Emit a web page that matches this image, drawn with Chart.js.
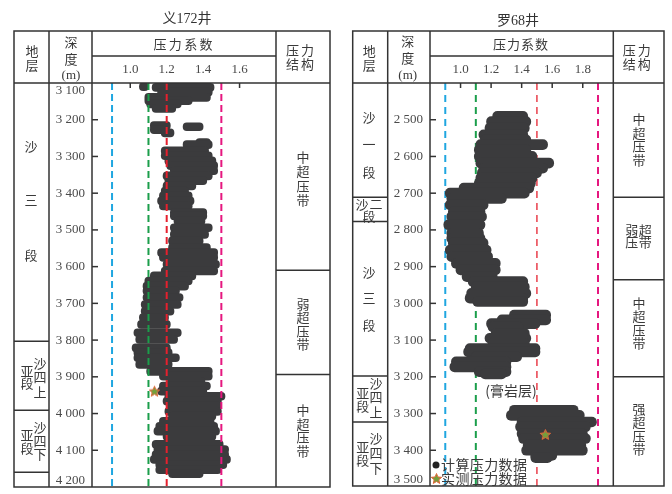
<!DOCTYPE html>
<html>
<head>
<meta charset="utf-8">
<script src="https://cdn.jsdelivr.net/npm/chart.js@4.4.0/dist/chart.umd.min.js"></script>
<style>
  html, body { margin: 0; padding: 0; background: #fff; }
  #wrap { position: relative; width: 672px; height: 494px; }
  canvas { position: absolute; top: 0; }
  #yi { left: 0; }
  #luo { left: 336px; }
</style>
</head>
<body>
<div id="wrap">
  <canvas id="yi" width="336" height="494"></canvas>
  <canvas id="luo" width="336" height="494"></canvas>
</div>
<script>
// 义172井: computed pressure coefficient, one row per depth (low .. high)
var yiDepth = [3103, 3110, 3112, 3125, 3139, 3148, 3157, 3169,
  3216, 3219, 3227, 3236, 3262, 3268, 3285, 3298, 3312, 3325, 3339, 3353, 3366, 3380, 3394,
  3407, 3421, 3435, 3453, 3462, 3476, 3494, 3512, 3530, 3548, 3562, 3575, 3594, 3612,
  3625, 3639, 3653, 3666, 3684, 3703, 3721, 3739, 3757, 3780, 3798, 3821, 3834, 3848, 3866,
  3885, 3898, 3912, 3925, 3939, 3953, 3966, 3980, 3994, 4007, 4021, 4035, 4048, 4062,
  4084, 4098, 4112, 4125, 4139, 4153, 4164];
var yiLow = [1.17, 1.05, 1.12, 1.15, 1.08, 1.08, 1.09, 1.12,
  1.11, 1.29, 1.11, 1.17, 1.36, 1.29, 1.17, 1.17, 1.19, 1.20, 1.22, 1.18, 1.19, 1.18, 1.17,
  1.16, 1.15, 1.16, 1.22, 1.22, 1.24, 1.22, 1.22, 1.21, 1.21, 1.15, 1.16, 1.18, 1.17,
  1.11, 1.08, 1.07, 1.07, 1.07, 1.06, 1.06, 1.05, 1.04, 1.02, 1.03, 1.01, 1.02, 1.02, 1.03,
  1.09, 1.16, 1.20, 1.16, 1.15, 1.19, 1.18, 1.20, 1.19, 1.21, 1.16, 1.14, 1.13, 1.18,
  1.12, 1.13, 1.12, 1.11, 1.14, 1.14, 1.21];
var yiHigh = [1.44, 1.10, 1.46, 1.45, 1.44, 1.34, 1.28, 1.25,
  1.22, 1.40, 1.20, 1.24, 1.44, 1.45, 1.43, 1.45, 1.47, 1.48, 1.48, 1.45, 1.42, 1.36, 1.32,
  1.34, 1.35, 1.34, 1.42, 1.42, 1.41, 1.45, 1.43, 1.40, 1.44, 1.48, 1.48, 1.49, 1.48,
  1.36, 1.34, 1.32, 1.27, 1.29, 1.28, 1.24, 1.21, 1.22, 1.28, 1.26, 1.22, 1.23, 1.27, 1.23,
  1.45, 1.45, 1.41, 1.44, 1.42, 1.52, 1.50, 1.50, 1.50, 1.47, 1.46, 1.48, 1.49, 1.47,
  1.51, 1.54, 1.54, 1.55, 1.53, 1.50, 1.40];
var yiMeasured = [{ x: 1.133, y: 3939 }];
var yiGuides = [0.9, 1.1, 1.2, 1.5];
var yiXTicks = [1.0, 1.2, 1.4, 1.6];
var yiXLabels = ["1.0", "1.2", "1.4", "1.6"];
var yiYTicks = [3100, 3200, 3300, 3400, 3500, 3600, 3700, 3800, 3900, 4000, 4100, 4200];
var yiYLabels = ["3 100", "3 200", "3 300", "3 400", "3 500", "3 600", "3 700", "3 800", "3 900", "4 000", "4 100", "4 200"];
var yiStratBounds = [3803, 3991, 4160];
var yiZoneBounds = [3610, 3894];

// 罗68井
var luoDepth = [2491, 2505, 2523, 2541, 2555, 2568, 2582, 2600, 2618, 2632, 2645, 2659, 2673, 2686,
  2700, 2714, 2732, 2750, 2764, 2786, 2809, 2823, 2836, 2855, 2873, 2891, 2909, 2927,
  2941, 2955, 2973, 2986, 2995, 3032, 3045, 3055, 3064, 3082, 3095, 3109, 3123, 3132, 3145,
  3159, 3173, 3186, 3192, 3291, 3305, 3323, 3336, 3355, 3368, 3386, 3400, 3414, 3420];
var luoLow = [1.21, 1.17, 1.16, 1.12, 1.13, 1.10, 1.09, 1.09, 1.10, 1.12, 1.11, 1.10, 1.09, 0.99,
  0.90, 0.91, 0.90, 0.92, 0.91, 0.89, 0.91, 0.91, 0.92, 0.90, 0.91, 0.94, 0.97, 1.01,
  1.05, 1.07, 1.04, 1.03, 1.08, 1.32, 1.24, 1.17, 1.18, 1.20, 1.16, 1.18, 1.03, 1.02, 1.07,
  0.94, 0.93, 1.09, 1.13, 1.32, 1.30, 1.37, 1.36, 1.37, 1.38, 1.41, 1.40, 1.46, 1.46];
var luoHigh = [1.44, 1.46, 1.45, 1.44, 1.46, 1.57, 1.46, 1.50, 1.61, 1.57, 1.53, 1.50, 1.49, 1.48,
  1.45, 1.30, 1.18, 1.16, 1.17, 1.16, 1.15, 1.16, 1.18, 1.20, 1.21, 1.26, 1.26, 1.24,
  1.44, 1.45, 1.46, 1.44, 1.44, 1.59, 1.59, 1.52, 1.41, 1.45, 1.46, 1.45, 1.52, 1.52, 1.40,
  1.33, 1.33, 1.33, 1.30, 1.77, 1.81, 1.89, 1.85, 1.83, 1.85, 1.82, 1.83, 1.63, 1.60];
var luoMeasured = [{ x: 1.555, y: 3357 }];
var luoGuides = [0.9, 1.1, 1.5, 1.9];
var luoXTicks = [1.0, 1.2, 1.4, 1.6, 1.8];
var luoXLabels = ["1.0", "1.2", "1.4", "1.6", "1.8"];
var luoYTicks = [2400, 2500, 2600, 2700, 2800, 2900, 3000, 3100, 3200, 3300, 3400, 3500];
var luoYLabels = ["", "2 500", "2 600", "2 700", "2 800", "2 900", "3 000", "3 100", "3 200", "3 300", "3 400", "3 500"];
var luoStratBounds = [2711, 2777, 3198, 3323];
var luoZoneBounds = [2711, 2936, 3200];

var CJK = '"Noto Sans CJK SC", sans-serif';
var NUM = '"Liberation Serif", "Noto Sans CJK SC", serif';
var guideColors = ["#1fa6e0", "#1b9e4b", "#e5202e", "#e5177f"];

function makeStar(size) {
  var c = document.createElement("canvas");
  c.width = size; c.height = size;
  var g = c.getContext("2d");
  var cx = size / 2, cy = size / 2 + 0.5, R = size / 2 - 1, r = R * 0.45;
  g.beginPath();
  for (var i = 0; i < 10; i++) {
    var a = -Math.PI / 2 + i * Math.PI / 5;
    var rr = i % 2 ? r : R;
    g.lineTo(cx + rr * Math.cos(a), cy + rr * Math.sin(a));
  }
  g.closePath();
  g.fillStyle = "#72a03c";
  g.fill();
  g.strokeStyle = "#e5663a";
  g.lineWidth = 1;
  g.stroke();
  return c;
}
var starImg = makeStar(13);

function vtext(ctx, s, x, y, step) {
  for (var i = 0; i < s.length; i++) ctx.fillText(s[i], x, y + i * step);
}
function htext(ctx, s, cx, y, step) {
  for (var i = 0; i < s.length; i++) ctx.fillText(s[i], cx + (i - (s.length - 1) / 2) * step, y);
}

function tablePlugin(L) {
  return {
    id: "table",
    beforeDatasetsDraw: function(chart) {
      var ctx = chart.ctx, xs = chart.scales.x, ys = chart.scales.y;
      ctx.save();
      ctx.strokeStyle = "#333";
      ctx.lineWidth = 1.5;
      L.xTicks.forEach(function(v) {
        var px = xs.getPixelForValue(v);
        ctx.beginPath(); ctx.moveTo(px, L.head); ctx.lineTo(px, L.head + 5); ctx.stroke();
      });
      L.yTicks.forEach(function(v, i) {
        if (i === 0 || i === L.yTicks.length - 1) return;
        var py = ys.getPixelForValue(v);
        ctx.beginPath(); ctx.moveTo(L.cols[2], py); ctx.lineTo(L.cols[2] + 6, py); ctx.stroke();
      });
      ctx.restore();
    },
    afterDraw: function(chart) {
      var ctx = chart.ctx, xs = chart.scales.x, ys = chart.scales.y;
      var c = L.cols;
      ctx.save();
      // grid of the table
      ctx.strokeStyle = "#333";
      ctx.lineWidth = 1.5;
      ctx.strokeRect(c[0], L.top, c[4] - c[0], L.bottom - L.top);
      ctx.beginPath();
      [c[1], c[2], c[3]].forEach(function(x) { ctx.moveTo(x, L.top); ctx.lineTo(x, L.bottom); });
      ctx.moveTo(c[0], L.head); ctx.lineTo(c[4], L.head);
      ctx.moveTo(c[2], L.mid); ctx.lineTo(c[3], L.mid);
      L.strat.forEach(function(d) {
        var py = ys.getPixelForValue(d);
        ctx.moveTo(c[0], py); ctx.lineTo(c[1], py);
      });
      L.zones.forEach(function(d) {
        var py = ys.getPixelForValue(d);
        ctx.moveTo(c[3], py); ctx.lineTo(c[4], py);
      });
      ctx.stroke();

      // title
      ctx.fillStyle = "#333";
      ctx.textAlign = "center";
      ctx.textBaseline = "middle";
      ctx.font = "14px " + NUM;
      ctx.fillText(L.title, L.titleX, L.titleY);

      // axis tick labels
      ctx.fillStyle = "#4a4a4a";
      ctx.font = "13px " + NUM;
      L.xTicks.forEach(function(v, i) {
        ctx.fillText(L.xLabels[i], xs.getPixelForValue(v), 70);
      });
      ctx.textAlign = "right";
      L.yTicks.forEach(function(v, i) {
        var py = Math.max(L.head + 8, Math.min(L.bottom - 6.5, ys.getPixelForValue(v)));
        ctx.fillText(L.yLabels[i], c[2] - 7, py);
      });

      // chinese texts
      ctx.textAlign = "center";
      ctx.fillStyle = "#3a3a3a";
      ctx.font = "13px " + CJK;
      L.texts(ctx);
      ctx.restore();
    }
  };
}

function buildChart(id, L, depth, low, high, measured, guides, opts) {
  var data = depth.map(function(d, i) { return { y: d, x: [low[i], high[i]] }; });
  var top = L.yTicks[0], bottom = L.yTicks[L.yTicks.length - 1];
  var datasets = [{
    type: "bar",
    data: data,
    backgroundColor: "#3b3b3d",
    borderWidth: 0,
    borderSkipped: false,
    borderRadius: opts.thick / 2,
    barThickness: opts.thick,
    order: opts.barOrder
  }];
  guides.forEach(function(v, i) {
    datasets.push({
      type: "line",
      data: [{ x: v, y: top }, { x: v, y: bottom }],
      borderColor: guideColors[i],
      borderWidth: opts.guideWidth[i],
      borderDash: opts.dash,
      pointRadius: 0,
      fill: false,
      order: 2
    });
  });
  datasets.push({
    type: "scatter",
    data: measured,
    pointStyle: starImg,
    pointRadius: 6,
    order: 0
  });

  new Chart(document.getElementById(id).getContext("2d"), {
    type: "bar",
    data: { datasets: datasets },
    options: {
      indexAxis: "y",
      responsive: false,
      animation: false,
      events: [],
      layout: { padding: L.padding },
      plugins: { legend: { display: false }, tooltip: { enabled: false } },
      scales: {
        x: { type: "linear", min: L.xMin, max: L.xMax, display: false },
        y: { type: "linear", min: top, max: bottom, reverse: true, offset: false, display: false }
      }
    },
    plugins: [tablePlugin(L)]
  });
}

var yiLayout = {
  title: "义172井", titleX: 187, titleY: 19,
  cols: [14, 49, 92, 276, 330], top: 31, mid: 56, head: 83, bottom: 487,
  padding: { left: 92, right: 60, top: 83, bottom: 7 },
  xMin: 0.79, xMax: 1.8,
  xTicks: yiXTicks, xLabels: yiXLabels, yTicks: yiYTicks, yLabels: yiYLabels,
  strat: yiStratBounds, zones: yiZoneBounds,
  texts: function(ctx) {
    vtext(ctx, "地层", 32, 51, 14);
    vtext(ctx, "深度", 71, 42, 17);
    ctx.font = "13px " + NUM;
    ctx.fillText("(m)", 71, 76);
    ctx.font = "13px " + CJK;
    htext(ctx, "压力系数", 183, 44, 15.3);
    htext(ctx, "压力", 300, 50, 15);
    htext(ctx, "结构", 300, 64, 15);
    vtext(ctx, "沙三段", 31, 146, 54.5);
    vtext(ctx, "亚段", 27, 371, 12.5);
    vtext(ctx, "沙四上", 40, 363, 14.5);
    vtext(ctx, "亚段", 27, 435, 13);
    vtext(ctx, "沙四下", 40, 427, 13.7);
    vtext(ctx, "中超压带", 303, 157, 14.5);
    vtext(ctx, "弱超压带", 303, 304, 13.5);
    vtext(ctx, "中超压带", 303, 410, 13.6);
  }
};

var luoLayout = {
  title: "罗68井", titleX: 182, titleY: 21,
  cols: [16.7, 51.7, 94, 277.3, 328], top: 31, mid: 56, head: 83, bottom: 486,
  padding: { left: 94, right: 58.7, top: 83, bottom: 7 },
  xMin: 0.8, xMax: 2.0,
  xTicks: luoXTicks, xLabels: luoXLabels, yTicks: luoYTicks, yLabels: luoYLabels,
  strat: luoStratBounds, zones: luoZoneBounds,
  texts: function(ctx) {
    vtext(ctx, "地层", 33.3, 51, 14);
    vtext(ctx, "深度", 71.7, 41, 17);
    ctx.font = "13px " + NUM;
    ctx.fillText("(m)", 71.7, 76);
    ctx.font = "13px " + CJK;
    htext(ctx, "压力系数", 184.5, 44, 14);
    htext(ctx, "压力", 300.7, 50, 15);
    htext(ctx, "结构", 300.7, 64, 15);
    vtext(ctx, "沙一段", 33, 117, 27.5);
    htext(ctx, "沙二", 33, 204, 14);
    ctx.fillText("段", 33, 216);
    vtext(ctx, "沙三段", 33, 272, 26.5);
    vtext(ctx, "亚段", 26.7, 393, 13);
    vtext(ctx, "沙四上", 40, 383, 14.3);
    vtext(ctx, "亚段", 26.7, 447, 13);
    vtext(ctx, "沙四下", 40, 438, 15);
    vtext(ctx, "中超压带", 303, 119, 13.7);
    htext(ctx, "弱超", 302.5, 230, 13.5);
    htext(ctx, "压带", 302.5, 242.5, 13.5);
    vtext(ctx, "中超压带", 303, 303, 13.4);
    vtext(ctx, "强超压带", 303, 409, 13.4);
    ctx.font = "14px " + CJK;
    ctx.fillText("(膏岩层)", 175, 391);
    // legend
    ctx.fillStyle = "#222";
    ctx.beginPath(); ctx.arc(100, 465, 3.5, 0, Math.PI * 2); ctx.fill();
    ctx.drawImage(starImg, 94, 472);
    ctx.fillStyle = "#3a3a3a";
    htext(ctx, "计算压力数据", 148, 465, 14.4);
    htext(ctx, "实测压力数据", 148, 479, 14.4);
  }
};

buildChart("yi", yiLayout, yiDepth, yiLow, yiHigh, yiMeasured, yiGuides,
  { thick: 8, barOrder: 3, guideWidth: [2, 2, 2, 2], dash: [7, 4] });
buildChart("luo", luoLayout, luoDepth, luoLow, luoHigh, luoMeasured, luoGuides,
  { thick: 10, barOrder: 1, guideWidth: [2, 2, 1.3, 2], dash: [7, 5] });
</script>
</body>
</html>
